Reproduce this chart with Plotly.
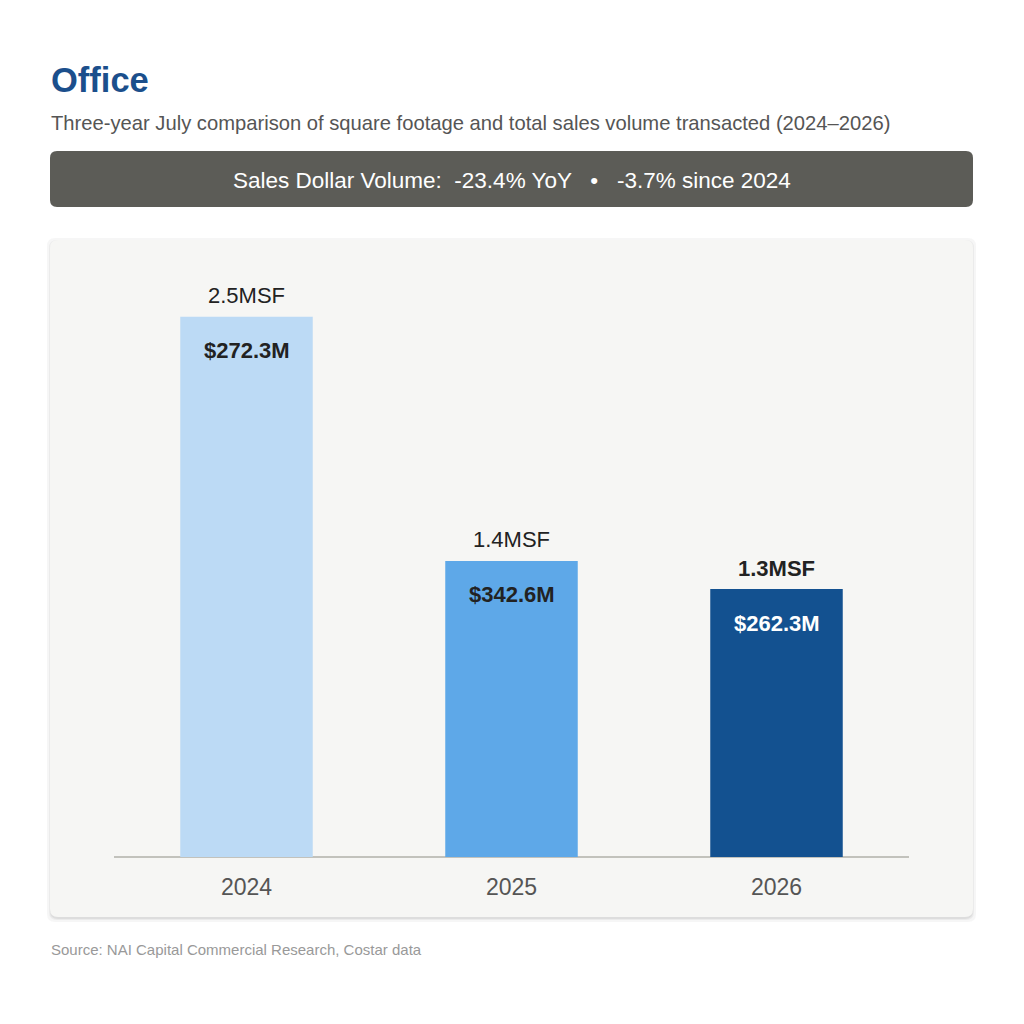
import plotly.graph_objects as go

years = ["2024", "2025", "2026"]
msf_values = [2.50, 1.37, 1.24]
msf_labels = ["2.5MSF", "1.4MSF", "<b>1.3MSF</b>"]
dollar_labels = ["$272.3M", "$342.6M", "$262.3M"]
bar_colors = ["#bcdaf5", "#5ea8e8", "#135190"]
dollar_colors = ["#222222", "#222222", "#ffffff"]

title = "Office"
subtitle = "Three-year July comparison of square footage and total sales volume transacted (2024–2026)"
banner = "Sales Dollar Volume:  -23.4% YoY   •   -3.7% since 2024"
source = "Source: NAI Capital Commercial Research, Costar data"

W = H = 1024
OFF = 8  # page body margin compensation
FONT = "Liberation Sans, Arial, sans-serif"

def px(x):
    return (x - OFF) / W

def py(y):
    return 1 - (y - OFF) / H

def rounded_path(x0, y0, x1, y1, r):
    rx, ry = r / W, r / H
    X0, X1 = px(x0), px(x1)
    Y0, Y1 = py(y0), py(y1)
    return (f"M {X0+rx},{Y0} L {X1-rx},{Y0} Q {X1},{Y0} {X1},{Y0-ry} "
            f"L {X1},{Y1+ry} Q {X1},{Y1} {X1-rx},{Y1} "
            f"L {X0+rx},{Y1} Q {X0},{Y1} {X0},{Y1+ry} "
            f"L {X0},{Y0-ry} Q {X0},{Y0} {X0+rx},{Y0} Z")

fig = go.Figure()

fig.add_trace(go.Bar(
    x=years, y=msf_values,
    marker=dict(color=bar_colors, line=dict(width=0)),
    width=0.5, hoverinfo="skip",
))

annotations = []
for i, (v, mlab, dlab, col) in enumerate(zip(msf_values, msf_labels, dollar_labels, dollar_colors)):
    annotations.append(dict(
        x=i, y=v, xref="x", yref="y", text=mlab,
        showarrow=False, yanchor="middle", yshift=21,
        font=dict(family=FONT, size=22, color="#222222"),
    ))
    annotations.append(dict(
        x=i, y=v, xref="x", yref="y", text=f"<b>{dlab}</b>",
        showarrow=False, yanchor="middle", yshift=-34,
        font=dict(family=FONT, size=22, color=col),
    ))

annotations += [
    dict(x=px(49), y=py(80), xref="paper", yref="paper", text=f"<b>{title}</b>",
         showarrow=False, xanchor="left", yanchor="middle",
         font=dict(family=FONT, size=34.5, color="#1b4f8c")),
    dict(x=px(49), y=py(123), xref="paper", yref="paper", text=subtitle,
         showarrow=False, xanchor="left", yanchor="middle",
         font=dict(family=FONT, size=20.2, color="#555555")),
    dict(x=px(512), y=py(180), xref="paper", yref="paper", text=banner,
         showarrow=False, xanchor="center", yanchor="middle",
         font=dict(family=FONT, size=22.5, color="#ffffff")),
    dict(x=px(49), y=py(949), xref="paper", yref="paper", text=source,
         showarrow=False, xanchor="left", yanchor="middle",
         font=dict(family=FONT, size=15, color="#999999")),
]

shapes = []
for off, op in [(4, 0.035), (2, 0.045), (1, 0.06)]:
    shapes.append(dict(type="path", xref="paper", yref="paper", layer="below",
                       path=rounded_path(50 - off + 1, 240 - off + 2, 973 + off - 1, 917 + off + 1, 8),
                       fillcolor=f"rgba(0,0,0,{op})", line=dict(width=0)))
shapes.append(dict(type="path", xref="paper", yref="paper", layer="below",
                   path=rounded_path(50, 240, 973, 917, 8),
                   fillcolor="#f6f6f4", line=dict(width=0)))
shapes.append(dict(type="path", xref="paper", yref="paper", layer="below",
                   path=rounded_path(50, 151, 973, 207, 7),
                   fillcolor="#5c5c57", line=dict(width=0)))

fig.update_layout(
    width=W, height=H,
    margin=dict(l=0, r=0, t=0, b=0),
    paper_bgcolor="#ffffff", plot_bgcolor="rgba(0,0,0,0)",
    showlegend=False,
    annotations=annotations, shapes=shapes,
    xaxis=dict(domain=[px(114), px(909)], range=[-0.5, 2.5], type="category",
               showgrid=False, zeroline=False, showline=False,
               ticks="", tickfont=dict(family=FONT, size=23, color="#555555"),
               ticklabelstandoff=14),
    yaxis=dict(domain=[py(857), py(252)], range=[0, 2.8],
               showgrid=False, zeroline=True, zerolinecolor="#c2c2bc", zerolinewidth=2,
               showticklabels=False, showline=False, ticks=""),
)

fig.write_html("out.html")
